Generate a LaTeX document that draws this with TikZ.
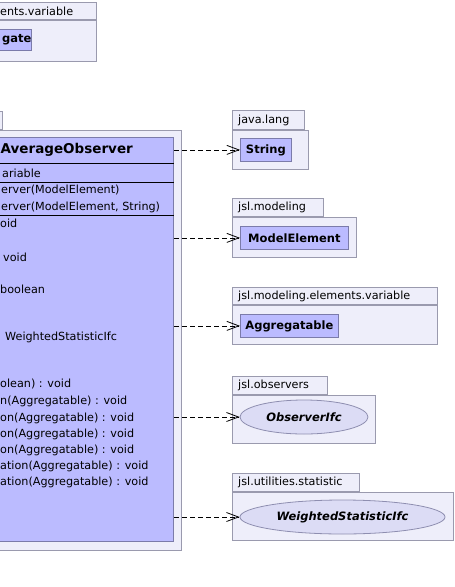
\documentclass[tikz,border=0pt]{standalone}
\usepackage{fontspec}
\setmainfont{DejaVu Sans}
\usetikzlibrary{arrows.meta,shapes.geometric}
\definecolor{pkgfill}{HTML}{EEEEFA}
\definecolor{pkgline}{HTML}{9A9AAE}
\definecolor{clsfill}{HTML}{BBBBFF}
\definecolor{clsline}{HTML}{7B7BAA}
\definecolor{ifcfill}{HTML}{DCDCF5}
\definecolor{ifcline}{HTML}{8E8EB0}

\begin{document}
\begin{tikzpicture}[x=1pt, y=-1pt,
  pkgbody/.style={draw=pkgline, fill=pkgfill, line width=0.8pt, inner sep=0pt, anchor=north west},
  pkghead/.style={draw=pkgline, fill=pkgfill, line width=0.8pt, inner sep=0pt, anchor=south west},
  pkgname/.style={anchor=west, inner sep=0pt, font=\fontsize{11.2}{13}\selectfont},
  clsbox/.style={draw=clsline, fill=clsfill, line width=0.8pt, inner sep=0pt, anchor=north west, font=\bfseries\fontsize{11.5}{13}\selectfont},
  ifcbox/.style={ellipse, draw=ifcline, fill=ifcfill, line width=0.8pt, inner sep=0pt, font=\bfseries\itshape\fontsize{11.5}{13}\selectfont},
  member/.style={anchor=west, inner sep=0pt, font=\fontsize{11.2}{13}\selectfont},
  dep/.style={line width=0.8pt, dash pattern=on 5pt off 3pt, -{Straight Barb[length=12pt,width=9pt]}}]
\useasboundingbox (0,0) rectangle (455,587);
\clip (0,0) rectangle (455,587);

\node[pkgbody, anchor=north east, minimum width=140pt, minimum height=41pt] (varpkg) at (97,20) {};
\node[pkghead, anchor=south east, minimum width=140pt, minimum height=17pt] (varhead) at (varpkg.north east) {};
\node[pkgname] (varname) at (0,11.5) {ents.variable};
\node[clsbox, anchor=north east, minimum width=50pt, minimum height=21pt] (aggbox) at (32,29) {};
\node[member, font=\bfseries\fontsize{11.5}{13}\selectfont] (aggname) at (2,39.5) {gate};

\node[pkghead, anchor=south east, minimum width=63pt, minimum height=18pt] (obstab) at (3,130) {};
\node[pkgbody, anchor=north east, minimum width=222pt, minimum height=420pt] (obspkg) at (182,130) {};
\node[clsbox, anchor=north east, minimum width=214pt, minimum height=404pt] (obs) at (174,137) {};
\foreach \y in {163,182,215}
  \draw[line width=0.8pt] (obs.west |- 0,\y) -- (obs.east |- 0,\y);
\node[member, font=\bfseries\fontsize{13.5}{16}\selectfont] (obsname) at (0.5,150) {AverageObserver};
\node[member] (m1) at (2,173) {ariable};
\node[member] (m2) at (1,190) {erver(ModelElement)};
\node[member] (m3) at (1,207) {erver(ModelElement, String)};
\node[member] (m4) at (0,223) {oid};
\node[member] (m5) at (3,257) {void};
\node[member] (m6) at (0,289) {boolean};
\node[member] (m7) at (5,337) {WeightedStatisticIfc};
\node[member] (m8) at (0,384) {olean) : void};
\node[member] (m9) at (0,401) {n(Aggregatable) : void};
\node[member] (m10) at (0,418) {on(Aggregatable) : void};
\node[member] (m11) at (0,434) {on(Aggregatable) : void};
\node[member] (m12) at (0,450) {on(Aggregatable) : void};
\node[member] (m13) at (0,466) {ation(Aggregatable) : void};
\node[member] (m14) at (0,482) {ation(Aggregatable) : void};

\node[pkgbody, minimum width=76pt, minimum height=39pt] (langpkg) at (232,130) {};
\node[pkghead, minimum width=72pt, minimum height=19pt] (langtab) at (langpkg.north west) {};
\node[pkgname] (langname) at ([xshift=6pt]langtab.west) {java.lang};
\node[clsbox, minimum width=51pt, minimum height=23pt] (string) at (240,138) {String};

\node[pkgbody, minimum width=124pt, minimum height=40pt] (modpkg) at (232,217) {};
\node[pkghead, minimum width=91pt, minimum height=18pt] (modtab) at (modpkg.north west) {};
\node[pkgname] (modname) at ([xshift=6pt]modtab.west) {jsl.modeling};
\node[clsbox, minimum width=108pt, minimum height=23pt] (modelem) at (240,226) {ModelElement};

\node[pkgbody, minimum width=205pt, minimum height=39pt] (elempkg) at (232,305) {};
\node[pkghead, minimum width=205pt, minimum height=17pt] (elemtab) at (elempkg.north west) {};
\node[pkgname] (elemname) at ([xshift=6pt]elemtab.west) {jsl.modeling.elements.variable};
\node[clsbox, minimum width=98pt, minimum height=23pt] (aggable) at (240,314) {Aggregatable};

\node[pkgbody, minimum width=143pt, minimum height=48pt] (obspkg2) at (232,395) {};
\node[pkghead, minimum width=95pt, minimum height=18pt] (obstab2) at (obspkg2.north west) {};
\node[pkgname] (obsname2) at ([xshift=6pt]obstab2.west) {jsl.observers};
\node[ifcbox, minimum width=128pt, minimum height=34pt] (obsifc) at (304,417) {ObserverIfc};

\node[pkgbody, minimum width=221pt, minimum height=48pt] (statpkg) at (232,492) {};
\node[pkghead, minimum width=127pt, minimum height=18pt] (stattab) at (statpkg.north west) {};
\node[pkgname] (statname) at ([xshift=6pt]stattab.west) {jsl.utilities.statistic};
\node[ifcbox, minimum width=205pt, minimum height=34pt] (wstatifc) at (342.5,517) {WeightedStatisticIfc};

\draw[dep] (obs.east |- string.west) -- (string.west);
\draw[dep] (obs.east |- modelem.west) -- (modelem.west);
\draw[dep] (obs.east |- aggable.west) -- (aggable.west);
\draw[dep] (obs.east |- obsifc.west) -- (obsifc.west);
\draw[dep] (obs.east |- wstatifc.west) -- (wstatifc.west);
\end{tikzpicture}
\end{document}
